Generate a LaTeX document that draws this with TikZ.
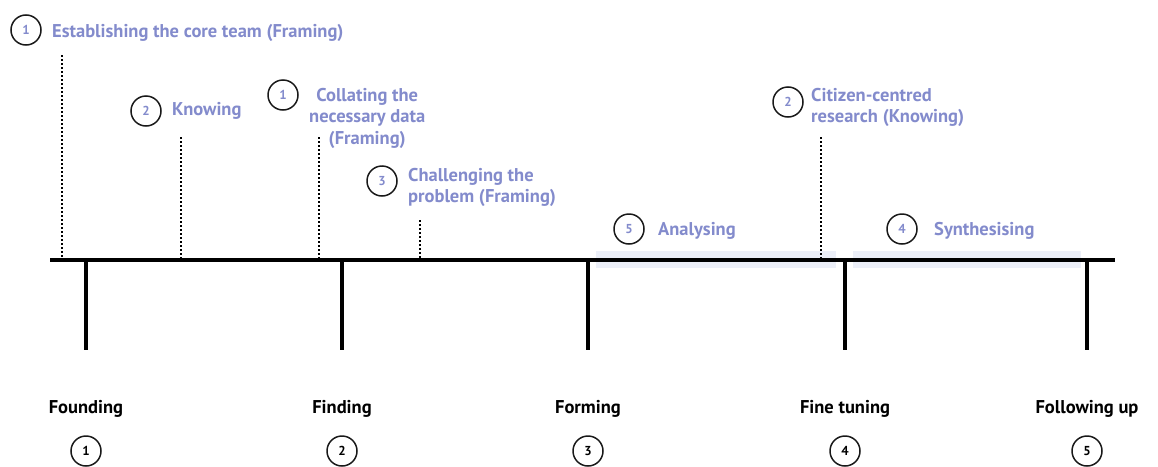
\documentclass[tikz,border=0pt]{standalone}
\usepackage{fontspec}
\setmainfont{PT Sans}
\usepackage{tikz}
\usetikzlibrary{positioning}
\definecolor{lav}{RGB}{131,139,204}
\definecolor{band}{RGB}{236,239,248}

\begin{document}
\begin{tikzpicture}[x=1pt,y=-1pt,
  num/.style={circle,draw=black!90,line width=1.5pt,minimum size=30pt,inner sep=0pt,font=\bfseries\fontsize{13}{13}\selectfont},
  lab/.style={text=lav,font=\bfseries\fontsize{18.5}{21.5}\selectfont,inner sep=0pt},
  phase/.style={font=\bfseries\fontsize{18.5}{18.5}\selectfont,inner sep=0pt},
  tickline/.style={line width=4pt},
  dotline/.style={line width=2pt,dash pattern=on 2pt off 2pt}]
\useasboundingbox (0,0) rectangle (1158,466);
%shaded bands
\fill[band] (596,251) rectangle (836,268);
\fill[band] (853,251) rectangle (1081,268);
%main line
\coordinate (start) at (50,260);
\coordinate (stop) at (1115,260);
\draw[tickline] (start) -- (stop);
%phases below the line
\foreach \i/\x/\name in {1/86/Founding,2/342/Finding,3/588/Forming,4/845/Fine tuning,5/1087/Following up}
{
  \coordinate (p\i) at (\x,260);
  \draw[tickline] (p\i) -- ++(0,90);
  \node[phase,anchor=base] (f\i) at (\x,413) {\name};
  \node[num] (m\i) at (\x,451) {\i};
}
%activities above the line
\node[num,text=lav] (n1) at (26,30) {1};
\node[lab,anchor=base west] (l1) at (52,37) {Establishing the core team (Framing)};
\node[num,text=lav] (n2) at (146,111) {2};
\node[lab,anchor=base west] (l2) at (172,115) {Knowing};
\node[num,text=lav] (n3) at (283,95) {1};
\node[lab,anchor=north west,align=center] (l3) at (309,88) {Collating the\\necessary data\\(Framing)};
\node[num,text=lav] (n4) at (382,181) {3};
\node[lab,anchor=north west,align=left] (l4) at (408,168) {Challenging the\\problem (Framing)};
\node[num,text=lav] (n5) at (629,229) {5};
\node[lab,anchor=base west] (l5) at (658,235) {Analysing};
\node[num,text=lav] (n6) at (788,102) {2};
\node[lab,anchor=north west,align=left] (l6) at (811,88) {Citizen-centred\\research (Knowing)};
\node[num,text=lav] (n7) at (902,229) {4};
\node[lab,anchor=base west] (l7) at (934,235) {Synthesising};
%dotted markers
\coordinate (d1) at (62,55);
\coordinate (d2) at (181,137);
\coordinate (d3) at (319,137);
\coordinate (d4) at (420,220);
\coordinate (d5) at (821,137);
\foreach \d in {d1,d2,d3,d4,d5}
  \draw[dotline] (\d) -- (\d |- start);
\end{tikzpicture}
\end{document}
